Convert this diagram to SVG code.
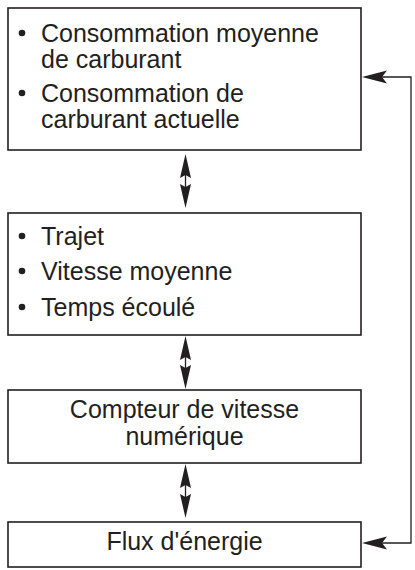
<svg xmlns="http://www.w3.org/2000/svg" width="415" height="570" viewBox="0 0 415 570">
<style>
.box{fill:#fff;stroke:#231f20;stroke-width:1.6}
.t{font-family:"Liberation Sans",Arial,sans-serif;font-size:25px;fill:#231f20}
.c{text-anchor:middle}
.ln{fill:none;stroke:#231f20;stroke-width:1.3}
.hd{fill:#231f20}
</style>
<rect width="415" height="570" fill="#fff"/>
<g id="node1">
<rect class="box" x="8" y="8" width="353" height="142"/>
<circle class="hd" cx="22" cy="33" r="3.3"/>
<text class="t" x="41" y="42">Consommation moyenne</text>
<text class="t" x="41" y="68">de carburant</text>
<circle class="hd" cx="22" cy="93" r="3.3"/>
<text class="t" x="41" y="102">Consommation de</text>
<text class="t" x="41" y="128">carburant actuelle</text>
</g>
<g id="node2">
<rect class="box" x="8" y="213" width="353" height="122"/>
<circle class="hd" cx="22" cy="236" r="3.3"/>
<text class="t" x="41" y="245">Trajet</text>
<circle class="hd" cx="22" cy="271" r="3.3"/>
<text class="t" x="41" y="280">Vitesse moyenne</text>
<circle class="hd" cx="22" cy="307" r="3.3"/>
<text class="t" x="41" y="316">Temps écoulé</text>
</g>
<g id="node3">
<rect class="box" x="8" y="390" width="353" height="73"/>
<text class="t c" x="184.5" y="418">Compteur de vitesse</text>
<text class="t c" x="184.5" y="445">numérique</text>
</g>
<g id="node4">
<rect class="box" x="8" y="522" width="353" height="45"/>
<text class="t c" x="184.5" y="550">Flux d'énergie</text>
</g>
<g id="connectors">
<line class="ln" x1="185.5" y1="160" x2="185.5" y2="203" stroke-width="1"/>
<path class="hd" d="M185.5,154 L191,178 L185.5,175 L180,178 Z"/>
<path class="hd" d="M185.5,208 L191,184 L185.5,187 L180,184 Z"/>
<line class="ln" x1="185.5" y1="342" x2="185.5" y2="383" stroke-width="1"/>
<path class="hd" d="M185.5,336 L191,360 L185.5,357 L180,360 Z"/>
<path class="hd" d="M185.5,389 L191,365 L185.5,368 L180,365 Z"/>
<line class="ln" x1="185.5" y1="470" x2="185.5" y2="512" stroke-width="1"/>
<path class="hd" d="M185.5,464 L191,488 L185.5,485 L180,488 Z"/>
<path class="hd" d="M185.5,518 L191,494 L185.5,497 L180,494 Z"/>
<polyline class="ln" points="372,77 411,77 411,543 372,543"/>
<path class="hd" d="M362,77 L387,70.5 L382,77 L387,83.5 Z"/>
<path class="hd" d="M362,543 L387,536.5 L382,543 L387,549.5 Z"/>
</g>
</svg>
